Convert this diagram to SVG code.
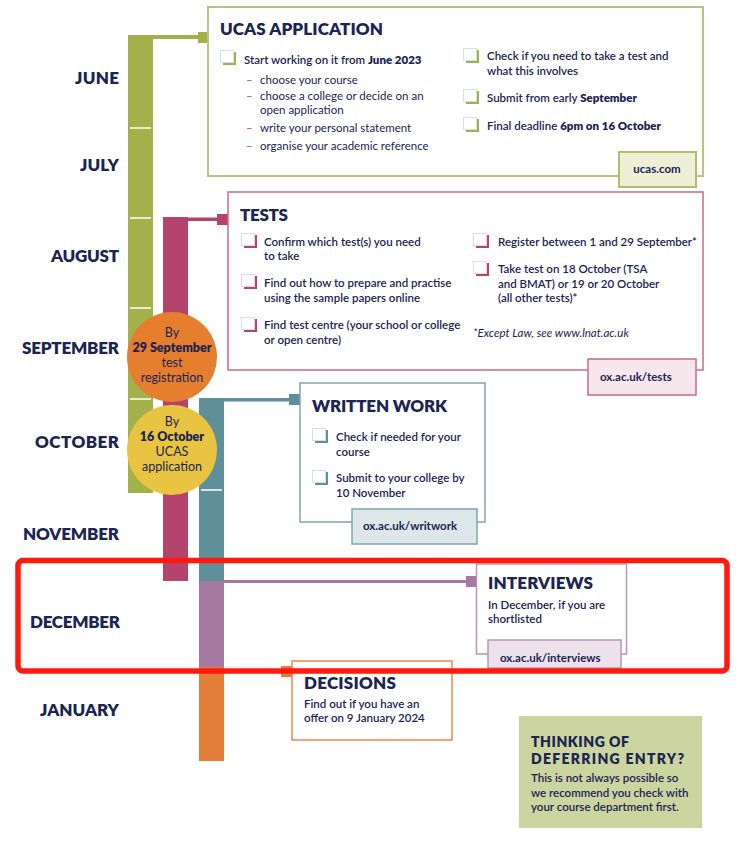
<svg xmlns="http://www.w3.org/2000/svg" width="747" height="842" viewBox="0 0 747 842">
<style>
  text { font-family: Lato, "Open Sans", "Liberation Sans", sans-serif; fill: #1b2452; }
  .month { font-size: 17px; font-weight: 800; }
  .title { font-size: 17px; font-weight: 800; }
  .item { font-size: 11.5px; font-weight: 600; }
  .em { font-weight: 800; }
  .sub { font-size: 11.5px; font-weight: 400; }
  .dash { font-size: 11.5px; fill: #c8406c; }
  .link { font-size: 11.5px; font-weight: 700; }
  .circ { font-size: 12.5px; font-weight: 400; text-anchor: middle; }
  .circb { font-size: 12.5px; font-weight: 800; text-anchor: middle; }
  .small-title { font-size: 14px; font-weight: 800; }
  .tick { stroke: #ffffff; stroke-width: 1.5; }
  .box { fill: #ffffff; }
</style>
<defs>
  <g id="cb-olive">
    <path d="M3 15 H16 V2 H13 V12 H3 Z" fill="#a3b14b"/>
    <rect x="0.5" y="0.5" width="13" height="12" fill="#ffffff" stroke="#d6e0ea" stroke-width="1"/>
  </g>
  <g id="cb-mag">
    <path d="M3 15 H16 V2 H13 V12 H3 Z" fill="#b5446c"/>
    <rect x="0.5" y="0.5" width="13" height="12" fill="#ffffff" stroke="#e6d6ee" stroke-width="1"/>
  </g>
  <g id="cb-teal">
    <path d="M3 15 H16 V2 H13 V12 H3 Z" fill="#5f8f99"/>
    <rect x="0.5" y="0.5" width="13" height="12" fill="#ffffff" stroke="#d6e0ea" stroke-width="1"/>
  </g>
</defs>

<g id="months">
  <text class="month" x="75" y="83.5" textLength="44">JUNE</text>
  <text class="month" x="80" y="170.5" textLength="39">JULY</text>
  <text class="month" x="51" y="262" textLength="68">AUGUST</text>
  <text class="month" x="22" y="353.5" textLength="97">SEPTEMBER</text>
  <text class="month" x="35" y="447.5" textLength="84">OCTOBER</text>
  <text class="month" x="23" y="539.5" textLength="96">NOVEMBER</text>
  <text class="month" x="30" y="627.5" textLength="90">DECEMBER</text>
  <text class="month" x="40" y="716" textLength="79">JANUARY</text>
</g>

<g id="timeline">
  <rect x="128" y="35" width="25" height="458" fill="#a3b14b"/>
  <rect x="163" y="217" width="25" height="364" fill="#b5446c"/>
  <rect x="199" y="398" width="25" height="183" fill="#5f8f99"/>
  <rect x="199" y="581" width="25" height="86" fill="#a679a3"/>
  <rect x="199" y="667" width="25" height="94" fill="#e27d3a"/>
  <line class="tick" x1="130" y1="128" x2="151" y2="128"/>
  <line class="tick" x1="130" y1="218" x2="151" y2="218"/>
  <line class="tick" x1="130" y1="308" x2="151" y2="308"/>
  <line class="tick" x1="130" y1="399" x2="151" y2="399"/>
  <line class="tick" x1="201" y1="490" x2="222" y2="490"/>
</g>

<g id="connectors">
  <rect x="153" y="35" width="46" height="4" fill="#a3b14b"/>
  <rect x="198" y="32" width="11" height="11" fill="#a3b14b"/>
  <rect x="188" y="217.5" width="30" height="3.5" fill="#b5446c"/>
  <rect x="217" y="214" width="11" height="11" fill="#b5446c"/>
  <rect x="224" y="398" width="66" height="3.5" fill="#5f8f99"/>
  <rect x="289" y="394" width="11" height="11" fill="#5f8f99"/>
  <rect x="224" y="580" width="243" height="3" fill="#a679a3"/>
  <rect x="466" y="576" width="11" height="11" fill="#a679a3"/>
  <rect x="224" y="669" width="58" height="3" fill="#e27d3a"/>
  <rect x="281" y="666" width="11" height="11" fill="#e27d3a"/>
</g>

<g id="circle-sept">
  <circle cx="172" cy="357" r="45" fill="#e67e30"/>
  <text class="circ" x="172" y="337">By</text>
  <text class="circb" x="172" y="352">29 September</text>
  <text class="circ" x="172" y="367">test</text>
  <text class="circ" x="172" y="382">registration</text>
</g>

<g id="circle-oct">
  <circle cx="172" cy="450" r="45" fill="#e9c442"/>
  <text class="circ" x="172" y="426">By</text>
  <text class="circb" x="172" y="441">16 October</text>
  <text class="circ" x="172" y="456">UCAS</text>
  <text class="circ" x="172" y="471">application</text>
</g>

<g id="ucas">
  <rect class="box" x="208" y="7" width="495" height="169" stroke="#b8c47f" stroke-width="2"/>
  <text class="title" x="220" y="35" textLength="163">UCAS APPLICATION</text>
  <use href="#cb-olive" x="220" y="50"/>
  <text class="item" x="244" y="64">Start working on it from <tspan class="em">June 2023</tspan></text>
  <text class="dash" x="246" y="84">–</text>
  <text class="sub" x="260" y="84">choose your course</text>
  <text class="dash" x="246" y="100">–</text>
  <text class="sub" x="260" y="100">choose a college or decide on an</text>
  <text class="sub" x="260" y="114">open application</text>
  <text class="dash" x="246" y="132">–</text>
  <text class="sub" x="260" y="132">write your personal statement</text>
  <text class="dash" x="246" y="150">–</text>
  <text class="sub" x="260" y="150">organise your academic reference</text>
  <use href="#cb-olive" x="463" y="48"/>
  <text class="item" x="487" y="60">Check if you need to take a test and</text>
  <text class="item" x="487" y="75">what this involves</text>
  <use href="#cb-olive" x="463" y="89"/>
  <text class="item" x="487" y="102">Submit from early <tspan class="em">September</tspan></text>
  <use href="#cb-olive" x="463" y="117"/>
  <text class="item" x="487" y="130">Final deadline <tspan class="em">6pm on 16 October</tspan></text>
  <rect x="619" y="152" width="77" height="35" fill="#edefd6" stroke="#b0bd6f" stroke-width="2"/>
  <text class="link" x="657" y="173" text-anchor="middle">ucas.com</text>
</g>

<g id="tests">
  <rect class="box" x="228" y="192" width="475" height="178" stroke="#c76a8c" stroke-width="1.5"/>
  <text class="title" x="240" y="221" textLength="48">TESTS</text>
  <use href="#cb-mag" x="241" y="233"/>
  <text class="item" x="264" y="246">Confirm which test(s) you need</text>
  <text class="item" x="264" y="260">to take</text>
  <use href="#cb-mag" x="241" y="274"/>
  <text class="item" x="264" y="287">Find out how to prepare and practise</text>
  <text class="item" x="264" y="302">using the sample papers online</text>
  <use href="#cb-mag" x="241" y="317"/>
  <text class="item" x="264" y="329">Find test centre (your school or college</text>
  <text class="item" x="264" y="344">or open centre)</text>
  <use href="#cb-mag" x="473" y="233"/>
  <text class="item" x="498" y="246">Register between 1 and 29 September*</text>
  <use href="#cb-mag" x="473" y="261"/>
  <text class="item" x="498" y="273">Take test on 18 October (TSA</text>
  <text class="item" x="498" y="288">and BMAT) or 19 or 20 October</text>
  <text class="item" x="498" y="302">(all other tests)*</text>
  <text class="sub" x="473" y="337" font-style="italic">*Except Law, see www.lnat.ac.uk</text>
  <rect x="588" y="359" width="108" height="36" fill="#f7e6ec" stroke="#c76a8c" stroke-width="1.5"/>
  <text class="link" x="600" y="381">ox.ac.uk/tests</text>
</g>

<g id="written-work">
  <rect class="box" x="300" y="383" width="185" height="139" stroke="#7fa6ad" stroke-width="1.5"/>
  <text class="title" x="312" y="412" textLength="135">WRITTEN WORK</text>
  <use href="#cb-teal" x="312" y="428"/>
  <text class="item" x="336" y="441">Check if needed for your</text>
  <text class="item" x="336" y="456">course</text>
  <use href="#cb-teal" x="312" y="470"/>
  <text class="item" x="336" y="482">Submit to your college by</text>
  <text class="item" x="336" y="497">10 November</text>
  <rect x="352" y="509" width="125" height="35" fill="#dde7e9" stroke="#7fa6ad" stroke-width="1.5"/>
  <text class="link" x="363" y="530">ox.ac.uk/writwork</text>
</g>

<g id="interviews">
  <rect class="box" x="476.5" y="564" width="150" height="90" stroke="#b894b5" stroke-width="1.5"/>
  <text class="title" x="488" y="589" textLength="105">INTERVIEWS</text>
  <text class="item" x="488" y="609">In December, if you are</text>
  <text class="item" x="488" y="623">shortlisted</text>
  <rect x="488" y="640" width="133" height="28" fill="#ede2ec" stroke="#b894b5" stroke-width="1.5"/>
  <text class="link" x="500" y="662">ox.ac.uk/interviews</text>
</g>

<g id="decisions">
  <rect class="box" x="292" y="661" width="160" height="79" stroke="#e8894b" stroke-width="1.5"/>
  <text class="title" x="304" y="689" textLength="92">DECISIONS</text>
  <text class="item" x="304" y="708">Find out if you have an</text>
  <text class="item" x="304" y="722">offer on 9 January 2024</text>
</g>

<g id="deferring">
  <rect x="519" y="716" width="183" height="112" fill="#ccd49f"/>
  <text class="small-title" x="531" y="747" textLength="98">THINKING OF</text>
  <text class="small-title" x="531" y="764" textLength="153">DEFERRING ENTRY?</text>
  <text class="item" x="531" y="782" font-size="12">This is not always possible so</text>
  <text class="item" x="531" y="797" font-size="12">we recommend you check with</text>
  <text class="item" x="531" y="811" font-size="12">your course department first.</text>
</g>

<g id="highlight">
  <rect x="18" y="560.5" width="709" height="110.5" rx="5" fill="none" stroke="#ff1a0d" stroke-width="5.5"/>
</g>
</svg>
